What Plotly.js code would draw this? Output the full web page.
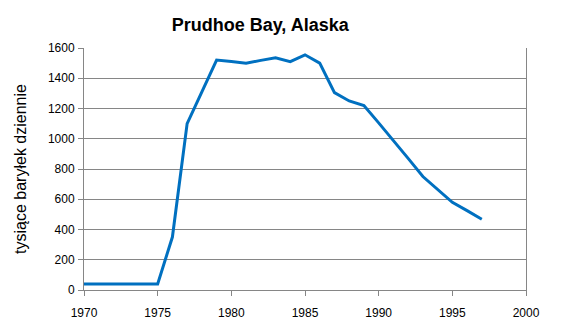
<!DOCTYPE html>
<html>
<head>
<meta charset="utf-8">
<script src="https://cdn.plot.ly/plotly-3.0.1.min.js"></script>
<style>html,body{margin:0;padding:0;background:#fff;}#chart{width:562px;height:329px;}</style>
</head>
<body>
<div id="chart"></div>
<script>
const years = [1970, 1971, 1972, 1973, 1974, 1975, 1976, 1977, 1978, 1979, 1980, 1981, 1982, 1983, 1984, 1985, 1986, 1987, 1988, 1989, 1990, 1991, 1992, 1993, 1994, 1995, 1996, 1997];
const production = [40, 40, 40, 40, 40, 40, 350, 1100, 1310, 1520, 1510, 1500, 1518, 1535, 1510, 1555, 1500, 1305, 1250, 1220, 1105, 990, 870, 750, 665, 580, 525, 468];
const xTicks = [1970, 1975, 1980, 1985, 1990, 1995, 2000];
const yTicks = [0, 200, 400, 600, 800, 1000, 1200, 1400, 1600];

const font = 'Liberation Sans, Arial, sans-serif';
Plotly.newPlot('chart', [{
  x: years, y: production, type: 'scatter', mode: 'lines',
  line: {color: '#0070C0', width: 3}
}], {
  width: 562, height: 329,
  margin: {l: 84, r: 36, t: 48, b: 39},
  paper_bgcolor: '#fff', plot_bgcolor: '#fff',
  showlegend: false,
  title: {text: '<b>Prudhoe Bay, Alaska</b>', font: {family: font, size: 18, color: '#000'},
          x: 0.463, xref: 'container', xanchor: 'center', y: 0.925, yref: 'container', yanchor: 'middle'},
  xaxis: {range: [1970, 2000], tickvals: xTicks, ticktext: xTicks.map(String),
          showgrid: false, zeroline: false, showline: true, linecolor: '#868686', linewidth: 1,
          ticks: 'outside', ticklen: 5, tickcolor: '#868686', ticklabelstandoff: 7,
          tickfont: {family: font, size: 12, color: '#000'}, mirror: false},
  yaxis: {range: [0, 1600], tickvals: yTicks, ticktext: yTicks.map(String),
          showgrid: true, gridcolor: '#868686', gridwidth: 1, zeroline: false,
          showline: true, linecolor: '#868686', linewidth: 1, mirror: true,
          ticks: 'outside', ticklen: 5, tickcolor: '#868686', ticklabelstandoff: 1,
          tickfont: {family: font, size: 12, color: '#000'},
          title: {text: 'tysiące baryłek dziennie', font: {family: font, size: 16, color: '#000'}, standoff: 17}}
}, {displayModeBar: false, staticPlot: true});
</script>
</body>
</html>
